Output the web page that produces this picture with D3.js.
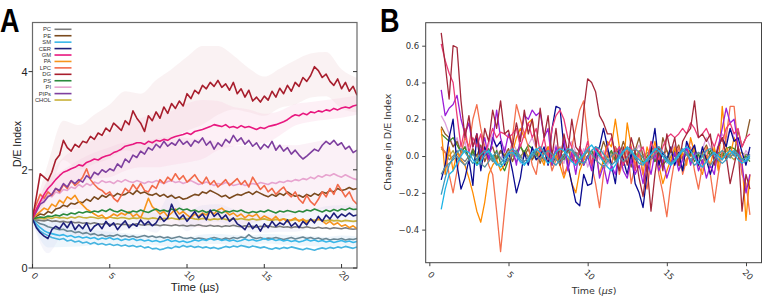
<!DOCTYPE html>
<html>
<head>
<meta charset="utf-8">
<script src="https://cdn.jsdelivr.net/npm/d3@7"></script>
<style>
  body { margin: 0; background: #fff; }
  svg { display: block; }
</style>
</head>
<body>
<div class="canvas"></div>
<script>
// ---- panel A: D/E index over time (sampled every 0.25 us from 0) ----
const stepA = 0.25
const lipids = ['PC', 'PE', 'SM', 'CER', 'GM', 'PA', 'LPC', 'DG', 'PS', 'PI', 'PIPs', 'CHOL']
const ticksA_x = [0, 5, 10, 15, 20]
const ticksA_y = [0, 2, 4]

const dgA = [1.00,1.45,1.92,1.85,1.78,1.95,2.20,2.30,2.60,2.45,2.38,2.52,2.46,2.58,2.55,2.68,2.62,2.75,2.70,2.85,2.78,2.95,2.88,2.80,3.00,2.92,3.20,3.05,2.95,2.78,3.10,3.00,3.18,3.05,3.28,3.15,3.35,3.25,3.40,3.30,3.55,3.45,3.62,3.55,3.72,3.65,3.78,3.70,3.82,3.68,3.75,3.62,3.78,3.55,3.65,3.48,3.62,3.40,3.48,3.38,3.50,3.42,3.60,3.48,3.66,3.55,3.72,3.60,3.78,3.70,3.88,3.80,3.92,4.10,4.02,3.88,3.95,3.80,3.72,3.85,3.65,3.78,3.60,3.70,3.52]
const gmA = [1.00,1.20,1.35,1.50,1.62,1.70,1.80,1.88,1.95,1.98,2.02,2.05,2.10,2.08,2.15,2.18,2.22,2.20,2.25,2.28,2.30,2.35,2.38,2.42,2.48,2.50,2.52,2.55,2.55,2.52,2.58,2.55,2.60,2.58,2.62,2.60,2.65,2.68,2.70,2.72,2.75,2.72,2.78,2.80,2.82,2.85,2.88,2.92,2.90,2.88,2.92,2.86,2.88,2.85,2.90,2.86,2.88,2.85,2.82,2.86,2.84,2.88,2.90,2.92,2.95,2.98,3.02,3.08,3.12,3.10,3.15,3.12,3.18,3.16,3.20,3.18,3.22,3.20,3.25,3.22,3.26,3.28,3.26,3.30,3.32]
const pipsA = [1.00,1.15,1.30,1.35,1.45,1.50,1.62,1.58,1.72,1.65,1.78,1.72,1.80,1.75,1.88,1.82,1.95,1.90,2.00,1.95,2.02,1.98,2.12,2.05,2.22,2.15,2.30,2.25,2.38,2.32,2.45,2.40,2.52,2.45,2.58,2.48,2.55,2.50,2.62,2.52,2.58,2.48,2.60,2.55,2.65,2.50,2.58,2.42,2.55,2.48,2.62,2.55,2.70,2.58,2.65,2.52,2.60,2.48,2.55,2.42,2.52,2.45,2.58,2.40,2.50,2.38,2.45,2.32,2.40,2.30,2.22,2.28,2.35,2.42,2.38,2.50,2.58,2.52,2.60,2.50,2.55,2.42,2.48,2.35,2.40]
const piA = [1.00,1.20,1.35,1.40,1.48,1.45,1.55,1.52,1.60,1.58,1.65,1.62,1.70,1.65,1.72,1.68,1.75,1.72,1.78,1.74,1.76,1.72,1.78,1.75,1.80,1.76,1.74,1.78,1.75,1.72,1.76,1.74,1.78,1.75,1.72,1.76,1.78,1.74,1.76,1.72,1.75,1.78,1.74,1.70,1.72,1.75,1.72,1.68,1.72,1.70,1.74,1.72,1.68,1.70,1.72,1.68,1.70,1.72,1.70,1.74,1.72,1.70,1.74,1.72,1.76,1.74,1.78,1.76,1.80,1.78,1.82,1.80,1.85,1.82,1.88,1.85,1.90,1.88,1.92,1.88,1.85,1.90,1.86,1.82,1.80]
const lpcA = [1.10,1.30,1.50,1.42,1.55,1.48,1.62,1.55,1.70,1.62,1.78,1.68,1.75,1.85,2.02,1.80,1.70,1.62,1.58,1.50,1.55,1.42,1.35,1.48,1.62,1.55,1.70,1.60,1.72,1.58,1.55,1.68,1.62,1.80,1.72,1.85,1.78,1.92,1.80,1.88,1.75,1.82,1.90,1.78,1.72,1.85,1.70,1.78,1.65,1.72,1.80,1.68,1.75,1.82,1.70,1.78,1.65,1.85,1.72,1.60,1.68,1.55,1.62,1.50,1.58,1.65,1.52,1.45,1.55,1.40,1.32,1.48,1.35,1.28,1.40,1.55,1.45,1.62,1.50,1.70,1.58,1.45,1.55,1.38,1.30]
const peA = [1.00,1.05,1.10,1.08,1.15,1.12,1.20,1.22,1.28,1.25,1.32,1.30,1.35,1.33,1.40,1.36,1.45,1.40,1.48,1.44,1.50,1.46,1.52,1.48,1.50,1.55,1.50,1.58,1.52,1.55,1.50,1.48,1.52,1.46,1.50,1.44,1.48,1.42,1.45,1.40,1.42,1.46,1.50,1.48,1.55,1.52,1.58,1.54,1.50,1.45,1.48,1.42,1.46,1.50,1.48,1.52,1.55,1.50,1.56,1.52,1.48,1.45,1.50,1.46,1.52,1.48,1.55,1.50,1.46,1.48,1.44,1.50,1.46,1.52,1.48,1.55,1.52,1.58,1.55,1.62,1.58,1.60,1.64,1.60,1.62]
const paA = [1.00,1.08,1.15,1.22,1.18,1.30,1.25,1.38,1.32,1.45,1.40,1.48,1.35,1.28,1.20,1.15,1.10,1.05,1.08,1.00,1.04,1.10,1.06,1.12,1.08,1.15,1.05,1.10,1.02,1.20,1.42,1.25,1.18,1.10,1.15,1.05,1.12,1.20,1.10,1.15,1.08,1.02,1.10,1.05,1.12,1.08,1.15,1.10,1.18,1.22,1.15,1.08,1.12,1.05,1.10,1.02,1.08,1.05,1.10,1.00,1.06,1.02,0.98,1.05,0.96,1.00,0.94,0.98,1.02,0.95,1.00,0.92,0.98,0.94,1.00,0.96,0.90,0.95,0.88,0.92,0.85,0.88,0.82,0.86,0.80]
const psA = [1.00,1.02,1.04,1.03,1.06,1.05,1.08,1.06,1.10,1.08,1.12,1.10,1.14,1.12,1.15,1.13,1.16,1.14,1.18,1.15,1.20,1.16,1.14,1.18,1.15,1.12,1.16,1.14,1.18,1.15,1.13,1.17,1.20,1.16,1.18,1.15,1.20,1.17,1.22,1.18,1.20,1.16,1.18,1.14,1.17,1.13,1.16,1.18,1.15,1.12,1.16,1.14,1.17,1.15,1.18,1.14,1.12,1.15,1.13,1.16,1.14,1.18,1.15,1.12,1.16,1.14,1.17,1.15,1.13,1.16,1.14,1.18,1.16,1.20,1.17,1.14,1.18,1.15,1.19,1.16,1.20,1.18,1.22,1.19,1.20]
const cholA = [1.00,1.01,1.02,1.00,1.03,1.01,1.04,1.02,1.03,1.01,1.04,1.02,1.05,1.03,1.02,1.04,1.03,1.01,1.03,1.02,1.04,1.02,1.01,1.03,1.02,1.00,1.02,1.01,1.03,1.01,1.00,1.02,1.01,0.99,1.01,1.00,1.02,1.00,0.99,1.01,1.00,1.02,1.00,0.99,1.01,1.00,0.98,1.00,0.99,1.01,0.99,0.98,1.00,0.99,1.01,0.99,0.98,1.00,0.98,0.99,1.00,0.98,0.97,0.99,0.98,1.00,0.98,0.97,0.99,0.97,0.98,0.96,0.98,0.97,0.99,0.97,0.96,0.98,0.96,0.97,0.95,0.97,0.96,0.95,0.96]
const cerA = [1.00,0.82,0.72,0.65,0.60,0.78,0.85,0.80,0.92,0.82,0.95,0.78,0.88,0.80,0.92,0.75,0.85,0.90,0.80,0.95,0.85,0.92,0.78,0.88,0.96,0.82,0.90,0.85,0.98,0.88,0.95,0.86,0.92,1.05,0.95,1.02,1.30,1.12,1.00,1.08,0.95,1.05,1.15,1.02,1.10,0.98,1.18,1.05,1.12,1.00,1.08,0.95,1.02,0.90,0.85,0.78,0.92,0.80,0.88,0.75,0.90,0.82,0.95,0.85,0.92,0.88,0.98,0.85,0.92,0.82,0.95,0.88,1.00,0.92,1.05,0.95,1.08,1.00,1.12,1.02,1.10,1.05,1.12,1.06,1.08]
const pcA = [1.00,0.98,0.97,0.96,0.98,0.95,0.96,0.94,0.95,0.93,0.94,0.92,0.93,0.91,0.92,0.90,0.92,0.90,0.89,0.91,0.89,0.88,0.90,0.88,0.89,0.87,0.88,0.90,0.88,0.87,0.89,0.87,0.88,0.86,0.88,0.87,0.86,0.88,0.86,0.87,0.85,0.87,0.86,0.88,0.86,0.85,0.87,0.85,0.86,0.84,0.86,0.85,0.87,0.85,0.84,0.86,0.84,0.85,0.83,0.85,0.84,0.86,0.84,0.83,0.85,0.83,0.84,0.82,0.84,0.83,0.82,0.84,0.82,0.81,0.83,0.81,0.82,0.80,0.82,0.81,0.80,0.82,0.80,0.79,0.80]
const pcLowA = [1.00,0.95,0.90,0.88,0.84,0.82,0.80,0.78,0.79,0.75,0.76,0.72,0.74,0.70,0.72,0.68,0.70,0.66,0.68,0.64,0.66,0.65,0.68,0.64,0.66,0.63,0.65,0.62,0.64,0.66,0.63,0.65,0.62,0.64,0.61,0.63,0.60,0.62,0.64,0.61,0.60,0.62,0.59,0.61,0.60,0.58,0.60,0.62,0.60,0.58,0.61,0.59,0.62,0.60,0.63,0.61,0.68,0.62,0.60,0.62,0.59,0.61,0.60,0.62,0.60,0.58,0.60,0.62,0.59,0.61,0.63,0.60,0.62,0.59,0.61,0.58,0.60,0.57,0.59,0.58,0.60,0.57,0.59,0.58,0.60]
const smA = [1.00,0.90,0.82,0.76,0.72,0.70,0.68,0.66,0.68,0.64,0.66,0.62,0.64,0.61,0.63,0.60,0.62,0.58,0.61,0.59,0.62,0.58,0.60,0.56,0.59,0.57,0.60,0.56,0.58,0.55,0.57,0.54,0.56,0.53,0.55,0.58,0.54,0.56,0.53,0.55,0.52,0.54,0.57,0.55,0.58,0.56,0.60,0.57,0.59,0.56,0.58,0.55,0.57,0.54,0.56,0.59,0.56,0.58,0.55,0.57,0.60,0.57,0.59,0.56,0.58,0.55,0.57,0.54,0.56,0.53,0.55,0.58,0.55,0.57,0.54,0.56,0.53,0.55,0.52,0.54,0.56,0.53,0.55,0.52,0.54]
const smLowA = [1.00,0.85,0.75,0.70,0.66,0.62,0.60,0.58,0.60,0.55,0.57,0.53,0.55,0.51,0.53,0.49,0.52,0.48,0.50,0.47,0.49,0.46,0.48,0.45,0.47,0.44,0.46,0.43,0.45,0.41,0.43,0.39,0.40,0.37,0.39,0.42,0.40,0.44,0.42,0.46,0.43,0.45,0.42,0.44,0.41,0.43,0.40,0.42,0.39,0.41,0.44,0.42,0.45,0.43,0.46,0.44,0.42,0.45,0.43,0.41,0.43,0.40,0.38,0.41,0.39,0.42,0.40,0.43,0.41,0.39,0.37,0.40,0.38,0.36,0.39,0.41,0.39,0.42,0.40,0.43,0.41,0.44,0.42,0.40,0.43]

// spread bands, one value per microsecond
const dgSd = [0.05,0.35,0.40,0.45,0.50,0.55,0.60,0.60,0.65,0.70,0.75,0.80,0.70,0.55,0.45,0.40,0.40,0.45,0.45,0.45,0.40,0.35]
const gmSd = [0.05,0.20,0.30,0.35,0.40,0.45,0.50,0.50,0.55,0.55,0.60,0.60,0.50,0.40,0.35,0.30,0.25,0.22,0.20,0.20,0.20,0.20]
const piSd = [0.05,0.30,0.40,0.50,0.60,0.70,0.75,0.80,0.85,0.90,0.90,0.90,0.85,0.80,0.80,0.75,0.75,0.70,0.70,0.70,0.65,0.60]
const smSd = [0.05,0.30,0.25,0.20,0.15,0.12,0.12,0.10,0.10,0.10,0.10,0.10,0.10,0.10,0.10,0.10,0.10,0.10,0.10,0.10,0.10,0.10]
const cerSd = [0.05,0.30,0.25,0.22,0.20,0.18,0.18,0.18,0.20,0.22,0.20,0.18,0.18,0.18,0.18,0.18,0.18,0.18,0.18,0.18,0.18,0.18]

// ---- panel B: change in D/E index (sampled every 0.25 us from 0.75) ----
const startB = 0.75
const stepB = 0.25
const ticksB_x = [0, 5, 10, 15, 20]
const ticksB_y = [-0.4, -0.2, 0.0, 0.2, 0.4, 0.6]

const dgB = [0.67,0.50,0.31,0.60,0.59,0.30,0.10,0.22,0.05,0.12,-0.02,0.15,0.08,0.25,0.15,0.30,0.12,0.14,0.05,0.18,0.08,0.25,0.12,0.20,0.05,0.26,0.10,0.22,0.00,0.15,-0.05,0.12,0.02,0.20,0.05,0.02,0.25,0.42,0.40,0.35,0.22,0.18,0.12,0.12,0.00,-0.08,0.05,-0.05,0.10,0.02,-0.12,-0.22,-0.05,-0.30,-0.10,0.05,-0.08,0.12,0.02,0.10,-0.05,0.08,0.12,0.15,0.30,0.10,0.12,0.08,0.12,-0.05,0.05,0.10,0.00,-0.15,-0.05,0.05,-0.30,-0.10,-0.18]
const gmB = [0.61,0.52,0.45,0.40,0.22,0.05,0.15,0.02,0.10,0.05,0.12,0.00,0.08,0.15,0.10,0.13,0.12,0.10,0.12,0.15,0.05,0.12,0.18,0.10,0.15,0.02,0.10,-0.02,0.15,0.22,0.25,0.20,0.10,0.05,-0.05,0.05,0.00,0.08,-0.05,0.05,0.02,-0.02,0.05,0.10,0.02,0.05,-0.05,0.00,0.05,-0.08,0.02,0.05,-0.05,0.08,0.02,-0.02,0.05,0.10,0.12,0.10,0.12,0.15,0.12,0.18,0.15,0.10,0.12,0.15,0.10,0.05,0.12,0.08,0.15,0.18,0.12,0.15,0.05,0.10,0.12]
const pipsB = [0.36,0.22,0.26,0.28,0.33,0.20,0.12,0.18,0.05,0.12,0.02,0.10,-0.02,0.08,0.25,0.10,0.02,0.12,0.05,-0.05,0.10,0.22,0.20,0.25,0.22,0.24,0.10,0.15,-0.05,0.05,-0.02,0.10,-0.08,0.02,-0.10,0.05,-0.05,0.00,-0.08,0.05,-0.12,-0.05,-0.15,-0.05,-0.10,0.02,-0.08,-0.12,-0.02,-0.10,-0.05,-0.15,-0.02,-0.10,0.02,-0.08,-0.02,-0.12,-0.05,0.02,-0.08,-0.02,0.05,-0.05,0.02,-0.08,-0.02,-0.12,-0.05,-0.10,0.05,0.15,0.26,0.18,0.20,0.05,-0.05,-0.20,-0.10]
const cerB = [-0.13,-0.05,0.10,0.20,-0.05,-0.18,-0.12,-0.02,-0.16,0.12,-0.08,0.05,-0.02,0.10,0.05,0.08,-0.05,0.02,-0.08,-0.20,-0.12,0.02,-0.05,0.05,-0.02,0.00,0.05,-0.05,0.15,0.27,0.26,0.05,-0.05,-0.15,-0.25,-0.27,-0.10,-0.16,-0.15,0.02,0.05,0.15,0.05,-0.05,-0.15,0.05,-0.02,-0.10,0.02,-0.15,-0.20,-0.28,-0.10,0.02,0.15,-0.05,0.02,-0.02,0.05,-0.05,0.02,-0.08,0.08,0.02,0.06,-0.05,0.05,-0.02,-0.10,-0.02,0.05,0.10,0.05,0.15,0.08,0.10,0.02,-0.05,0.05]
const paB = [0.15,-0.10,0.05,-0.08,0.02,-0.02,-0.05,-0.12,-0.20,-0.30,-0.36,-0.25,-0.10,-0.05,-0.02,-0.08,-0.05,-0.02,0.02,0.10,0.15,0.10,0.18,0.20,0.05,0.00,-0.05,0.05,-0.02,0.00,-0.05,-0.12,-0.05,-0.15,-0.20,-0.08,-0.02,0.05,-0.05,0.02,-0.10,-0.02,0.08,0.05,0.20,0.05,-0.05,0.18,0.05,-0.05,0.02,-0.10,0.05,-0.02,0.08,-0.05,-0.15,-0.08,-0.02,0.05,-0.05,0.02,-0.05,0.10,0.02,-0.05,-0.10,0.00,-0.05,0.05,-0.08,0.27,0.05,0.00,0.10,0.05,-0.02,-0.35,-0.10]
const lpcB = [0.05,0.02,-0.10,-0.20,-0.08,0.02,0.10,0.05,0.20,0.28,0.15,0.05,-0.05,-0.10,-0.30,-0.52,-0.30,-0.10,0.10,0.28,0.20,0.12,0.05,-0.05,-0.10,0.05,-0.02,0.02,-0.08,-0.02,0.05,-0.10,-0.05,0.05,0.15,0.25,0.30,0.10,-0.05,-0.15,-0.28,-0.10,0.02,-0.05,0.05,-0.10,-0.02,0.05,-0.15,-0.05,0.02,-0.10,-0.18,-0.02,0.05,-0.10,-0.20,-0.33,-0.15,-0.02,0.05,-0.10,-0.02,0.05,-0.08,-0.18,-0.05,0.05,-0.10,-0.25,-0.10,0.02,0.10,0.27,0.27,0.05,-0.10,-0.15,-0.32]
const peB = [0.16,0.12,0.10,0.05,0.08,0.02,0.05,-0.02,0.04,0.00,0.06,-0.03,0.02,0.05,-0.02,0.03,0.00,0.04,-0.03,0.02,0.06,0.00,0.04,-0.02,0.03,-0.04,0.02,0.05,-0.02,0.03,-0.05,0.00,0.04,-0.03,0.02,-0.05,0.00,0.03,-0.04,0.05,0.00,0.08,0.02,-0.05,0.05,0.00,0.08,0.02,-0.06,0.03,0.10,0.00,-0.08,0.05,0.02,-0.05,0.10,0.03,-0.04,0.02,0.06,-0.02,0.04,0.00,0.05,-0.05,0.02,0.06,0.00,0.03,-0.04,0.02,-0.02,0.05,0.00,0.14,0.05,0.10,0.20]
const psB = [0.12,0.10,0.08,0.10,0.06,0.02,0.05,-0.02,0.03,-0.05,0.02,0.00,0.04,-0.02,0.03,-0.04,-0.08,-0.02,0.03,0.00,0.05,0.02,0.06,0.04,0.00,0.03,-0.02,0.02,-0.05,0.00,0.03,-0.02,0.04,0.00,-0.03,0.02,-0.05,0.00,0.03,-0.02,0.02,-0.04,0.00,0.03,-0.02,0.02,-0.05,0.00,0.04,-0.02,0.02,-0.04,0.00,0.03,-0.03,0.02,-0.05,-0.02,0.03,0.00,-0.04,-0.08,-0.02,0.02,-0.03,0.01,-0.04,0.00,0.03,-0.02,0.02,0.00,0.04,0.05,0.04,0.02,-0.02,0.00,-0.03]
const cholB = [0.04,0.02,0.00,0.03,-0.02,0.01,0.03,-0.01,0.02,0.00,-0.03,0.01,0.02,-0.02,0.00,0.03,0.01,-0.02,0.00,0.02,-0.01,0.03,0.00,-0.02,0.01,0.02,-0.03,0.00,0.02,-0.01,0.01,0.03,-0.02,0.00,0.02,-0.01,0.00,0.03,0.01,-0.02,0.00,0.02,-0.01,0.01,-0.03,0.00,0.02,0.01,-0.02,0.00,0.03,0.01,-0.01,0.02,0.00,-0.02,0.01,0.03,-0.01,0.00,0.02,-0.02,0.01,0.00,0.03,-0.01,0.01,-0.02,0.00,0.02,0.01,-0.01,0.03,0.00,-0.02,0.01,0.02,0.00,-0.01]
const pcB = [0.05,0.02,-0.02,0.00,0.03,-0.01,-0.03,0.00,0.02,-0.02,0.01,0.03,0.00,-0.03,-0.01,0.02,0.00,-0.02,0.01,-0.03,0.00,0.02,-0.01,0.01,-0.02,0.00,0.03,0.01,-0.02,0.00,0.02,-0.01,-0.03,0.00,0.02,0.01,-0.02,0.00,0.03,-0.01,0.01,-0.02,0.00,0.02,-0.03,-0.01,0.01,0.03,0.00,-0.02,0.01,-0.01,0.02,0.00,-0.03,0.01,0.02,-0.01,0.00,0.03,-0.02,0.00,0.01,-0.03,-0.01,0.02,0.00,-0.02,0.01,0.03,0.00,-0.02,0.01,-0.01,0.02,0.00,-0.02,0.01,0.00]
const piB = [0.22,0.18,0.12,0.05,0.10,0.02,0.08,-0.02,0.05,0.10,0.03,-0.03,0.06,0.12,0.04,-0.02,0.05,0.00,0.08,0.03,-0.04,0.02,0.06,0.10,0.04,-0.02,0.03,-0.05,0.02,0.06,0.00,-0.04,0.03,0.08,0.02,-0.03,0.04,-0.06,0.00,0.05,-0.02,0.03,-0.05,0.00,0.04,-0.08,-0.02,0.03,-0.04,0.02,0.06,0.00,-0.03,0.04,-0.02,0.05,0.00,-0.04,0.02,0.06,0.02,-0.02,0.05,0.08,0.03,-0.02,0.04,0.10,0.05,0.00,0.06,0.12,0.08,0.15,0.10,0.05,-0.02,0.03,0.00]
const smB = [-0.29,-0.18,-0.10,-0.08,-0.04,0.00,0.03,0.02,-0.02,-0.05,-0.03,0.01,0.03,0.00,-0.04,-0.06,-0.03,0.01,0.02,0.00,-0.03,-0.05,-0.02,0.02,0.04,0.02,-0.01,-0.04,-0.02,0.02,0.04,0.03,0.00,-0.03,-0.05,-0.02,0.01,0.04,0.06,0.03,0.00,-0.03,-0.06,-0.08,-0.05,-0.01,0.02,0.05,0.03,0.00,-0.02,-0.04,-0.02,0.01,0.04,0.03,0.00,-0.03,-0.05,-0.03,0.00,0.03,0.05,0.03,-0.01,-0.04,-0.06,-0.03,0.00,0.02,0.00,-0.02,0.01,0.03,0.01,-0.02,-0.04,-0.02,0.00]
const smLowB = [-0.21,-0.12,-0.05,-0.01,0.02,0.04,0.02,-0.01,-0.04,-0.02,0.01,0.03,0.02,-0.02,-0.05,-0.04,-0.01,0.02,0.04,0.02,-0.02,-0.04,-0.03,0.00,0.03,0.05,0.02,-0.01,-0.03,-0.05,-0.02,0.01,0.04,0.03,0.00,-0.03,-0.04,-0.01,0.03,0.05,0.04,0.01,-0.02,-0.05,-0.03,0.00,0.03,0.04,0.02,-0.01,-0.04,-0.05,-0.02,0.01,0.03,0.05,0.02,-0.01,-0.04,-0.02,0.01,0.04,0.02,-0.02,-0.05,-0.03,0.00,0.03,0.04,0.01,-0.02,-0.04,-0.02,0.01,0.03,0.01,-0.02,-0.03,-0.01]
const pcLowB = [-0.10,-0.06,-0.04,-0.02,0.00,-0.03,-0.05,-0.02,0.01,-0.02,-0.04,-0.06,-0.03,0.00,0.02,-0.01,-0.04,-0.02,0.01,0.03,0.00,-0.03,-0.01,0.02,0.00,-0.02,0.01,0.03,0.01,-0.02,-0.04,-0.01,0.02,0.04,0.01,-0.02,0.00,0.03,0.01,-0.02,-0.04,-0.06,-0.03,0.00,0.02,0.00,-0.03,-0.01,0.02,0.04,0.02,-0.01,-0.03,-0.01,0.01,0.03,0.00,-0.02,-0.04,-0.02,0.01,0.03,0.01,-0.02,0.00,0.02,0.00,-0.03,-0.05,-0.02,0.01,0.03,0.01,-0.01,0.02,0.00,-0.02,-0.01,0.01]

const colorsA = {PC: '#7a7a7a', PE: '#7b4a1e', SM: '#38b6e8', CER: '#1d1f7a', GM: '#e8177f', PA: '#f7941d',
  LPC: '#f26a4a', DG: '#a81e2d', PS: '#2b8a3e', PI: '#e7a3cf', PIPs: '#7e3f9f', CHOL: '#c9b23a',
  pcLow: '#6b8794', smLow: '#46b4e0'}
const colorsB = {PC: '#808080', PE: '#8b5a2b', SM: '#1eb4e6', CER: '#0a0a90', GM: '#ec3a78', PA: '#ff8c00',
  LPC: '#f4704e', DG: '#a3283a', PS: '#3c8c28', PI: '#dda0dd', PIPs: '#9b1fd8', CHOL: '#b0a040',
  pcLow: '#5f8f9f', smLow: '#3a9cc0'}

// draw order, bottom to top
const seriesA = [
  ['pcLow', pcLowA], ['SM', smA], ['smLow', smLowA], ['PC', pcA], ['CHOL', cholA], ['PE', peA],
  ['PI', piA], ['LPC', lpcA], ['PA', paA], ['PS', psA], ['CER', cerA], ['PIPs', pipsA], ['GM', gmA], ['DG', dgA]]
const bandsA = [['PI', piA, piSd, '#f3d2e4', 0.3], ['DG', dgA, dgSd, '#e6c3c8', 0.22],
  ['GM', gmA, gmSd, '#f8cce0', 0.3], ['SM', smA, smSd, '#cfe6f5', 0.35], ['CER', cerA, cerSd, '#d6d6ee', 0.25]]
const seriesB = [
  ['PC', pcB], ['CHOL', cholB], ['PI', piB], ['PE', peB], ['PS', psB], ['PA', paB], ['LPC', lpcB],
  ['CER', cerB], ['PIPs', pipsB], ['GM', gmB], ['DG', dgB], ['pcLow', pcLowB], ['smLow', smLowB], ['SM', smB]]

const svg = d3.select('.canvas').append('svg').attr('width', 763).attr('height', 298)

// ================= panel A =================
const boxA = {left: 32.5, right: 357, top: 22.5, bottom: 268}
const xA = d3.scaleLinear().domain([0, 21]).range([boxA.left, boxA.right])
const yA = d3.scaleLinear().domain([0, 5]).range([boxA.bottom, boxA.top])
const fontA = 'Liberation Sans, Arial, sans-serif'

svg.append('clipPath').attr('id', 'clipA').append('rect')
  .attr('x', boxA.left).attr('y', boxA.top)
  .attr('width', boxA.right - boxA.left).attr('height', boxA.bottom - boxA.top)

const plotA = svg.append('g').attr('clip-path', 'url(#clipA)')

bandsA.forEach(([name, mean, sd, fill, op]) => {
  const pts = sd.map((s, i) => ({t: i, lo: mean[i * 4] - s, hi: mean[i * 4] + s}))
  plotA.append('path')
    .attr('d', d3.area().x(d => xA(d.t)).y0(d => yA(d.lo)).y1(d => yA(d.hi))
      .curve(d3.curveMonotoneX)(pts))
    .attr('fill', fill).attr('fill-opacity', op)
})

const lineA = d3.line().x((v, i) => xA(i * stepA)).y(v => yA(v))
seriesA.forEach(([name, vals]) => {
  plotA.append('path').attr('d', lineA(vals))
    .attr('fill', 'none').attr('stroke', colorsA[name])
    .attr('stroke-width', 1.6).attr('stroke-linejoin', 'round')
})

svg.append('rect').attr('x', boxA.left).attr('y', boxA.top)
  .attr('width', boxA.right - boxA.left).attr('height', boxA.bottom - boxA.top)
  .attr('fill', 'none').attr('stroke', '#6a6a6a').attr('stroke-width', 1.2)

// left ticks outward, right and bottom ticks inward
ticksA_y.forEach(v => {
  svg.append('line').attr('x1', boxA.left - 4).attr('x2', boxA.left)
    .attr('y1', yA(v)).attr('y2', yA(v)).attr('stroke', '#333')
  svg.append('line').attr('x1', boxA.right - 4).attr('x2', boxA.right)
    .attr('y1', yA(v)).attr('y2', yA(v)).attr('stroke', '#333')
  svg.append('text').attr('x', boxA.left - 5).attr('y', yA(v) + 4)
    .attr('text-anchor', 'end').attr('font-family', fontA).attr('font-size', 11)
    .attr('fill', '#222').text(v)
})
ticksA_x.forEach(v => {
  svg.append('line').attr('x1', xA(v)).attr('x2', xA(v))
    .attr('y1', boxA.bottom - 4).attr('y2', boxA.bottom).attr('stroke', '#333')
  svg.append('text')
    .attr('transform', `translate(${xA(v) + 2.5},${boxA.bottom + 8}) rotate(45)`)
    .attr('text-anchor', 'middle').attr('dominant-baseline', 'central')
    .attr('font-family', fontA).attr('font-size', 9).attr('fill', '#333').text(v)
})

svg.append('text').attr('x', 195).attr('y', 291).attr('text-anchor', 'middle')
  .attr('font-family', fontA).attr('font-size', 11.5).attr('fill', '#222').text('Time (µs)')
svg.append('text').attr('transform', 'translate(21,144) rotate(-90)').attr('text-anchor', 'middle')
  .attr('font-family', fontA).attr('font-size', 10.5).attr('fill', '#222').text('D/E Index')

// legend
const legend = svg.append('g')
lipids.forEach((name, i) => {
  const y = 29.3 + i * 6.43
  legend.append('text').attr('x', 51).attr('y', y + 2).attr('text-anchor', 'end')
    .attr('font-family', fontA).attr('font-size', 5.8).attr('fill', '#333').text(name)
  legend.append('line').attr('x1', 54.5).attr('x2', 71.5).attr('y1', y).attr('y2', y)
    .attr('stroke', colorsA[name]).attr('stroke-width', 1.6)
})

// ================= panel B =================
const boxB = {left: 425.7, right: 761.5, top: 22.7, bottom: 262.7}
const xB = d3.scaleLinear().domain([-0.23, 20.98]).range([boxB.left, boxB.right])
const yB = d3.scaleLinear().domain([-0.58, 0.725]).range([boxB.bottom, boxB.top])
const fontB = 'DejaVu Sans, sans-serif'

svg.append('clipPath').attr('id', 'clipB').append('rect')
  .attr('x', boxB.left).attr('y', boxB.top)
  .attr('width', boxB.right - boxB.left).attr('height', boxB.bottom - boxB.top)
const plotB = svg.append('g').attr('clip-path', 'url(#clipB)')

const lineB = d3.line().x((v, i) => xB(startB + i * stepB)).y(v => yB(v))
seriesB.forEach(([name, vals]) => {
  plotB.append('path').attr('d', lineB(vals))
    .attr('fill', 'none').attr('stroke', colorsB[name])
    .attr('stroke-width', 1.3).attr('stroke-linejoin', 'round')
})

svg.append('rect').attr('x', boxB.left).attr('y', boxB.top)
  .attr('width', boxB.right - boxB.left).attr('height', boxB.bottom - boxB.top)
  .attr('fill', 'none').attr('stroke', '#444').attr('stroke-width', 1)

const yAxisB = svg.append('g').attr('transform', `translate(${boxB.left},0)`)
  .call(d3.axisLeft(yB).tickValues(ticksB_y).tickSize(3.5).tickPadding(3)
    .tickFormat(v => d3.format('.1f')(v).replace('-', '\u2212')))
yAxisB.select('.domain').remove()
yAxisB.selectAll('text').attr('font-family', fontB).attr('font-size', 8.5).attr('fill', '#333')
yAxisB.selectAll('line').attr('stroke', '#444')

const xAxisB = svg.append('g').attr('transform', `translate(0,${boxB.bottom})`)
  .call(d3.axisBottom(xB).tickValues(ticksB_x).tickSize(3.5))
xAxisB.select('.domain').remove()
xAxisB.selectAll('line').attr('stroke', '#444')
xAxisB.selectAll('text')
  .attr('y', 0).attr('dy', null)
  .attr('transform', 'translate(1.5,12) rotate(45)')
  .attr('text-anchor', 'middle').attr('dominant-baseline', 'central')
  .attr('font-family', fontB).attr('font-size', 8.5).attr('fill', '#333')

const tB = svg.append('text').attr('x', 594).attr('y', 294).attr('text-anchor', 'middle')
  .attr('font-family', fontB).attr('font-size', 9.5).attr('fill', '#333')
tB.append('tspan').text('Time (')
tB.append('tspan').attr('font-style', 'italic').text('µs')
tB.append('tspan').text(')')
svg.append('text').attr('transform', 'translate(390.5,142) rotate(-90)').attr('text-anchor', 'middle')
  .attr('font-family', fontB).attr('font-size', 9.5).attr('fill', '#333').text('Change in D/E Index')

// panel letters
const letter = (x, t) => svg.append('text')
  .attr('transform', `translate(${x},32) scale(0.82,1)`)
  .attr('font-family', 'Liberation Sans, Arial, sans-serif').attr('font-weight', 700)
  .attr('font-size', 33).attr('fill', '#000').text(t)
letter(0, 'A')
letter(380, 'B')
</script>
</body>
</html>
